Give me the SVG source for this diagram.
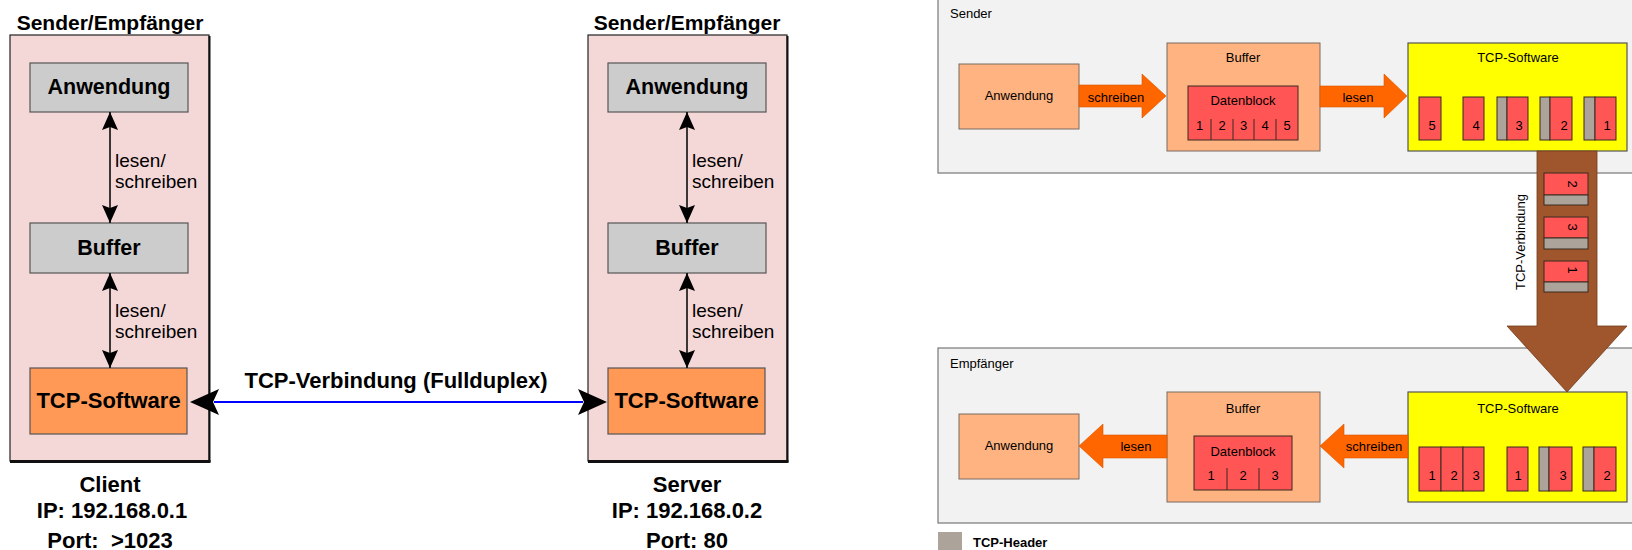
<svg xmlns="http://www.w3.org/2000/svg" width="1632" height="550" viewBox="0 0 1632 550">
<style>
text{font-family:"Liberation Sans",Arial,sans-serif;fill:#000}
.t21{font-size:21px;font-weight:bold}
.t22{font-size:22px;font-weight:bold}
.lab{font-size:19px}
.s13{font-size:13px}
.b13{font-size:13px;font-weight:bold}
.mid{text-anchor:middle}
.host{fill:#f4d7d7;stroke:#222;stroke-width:1.2}
.shadow{stroke:#111;fill:none}
.gbox{fill:#cccccc;stroke:#555;stroke-width:1.2}
.obox{fill:#ff9955;stroke:#555;stroke-width:1.2}
.cont{fill:#f2f2f2;stroke:#777;stroke-width:1.2}
.lo{fill:#ffb380;stroke:#7a6a60;stroke-width:1}
.red{fill:#ff5555;stroke:#3a2a20;stroke-width:1}
.hdr{fill:#aca49b;stroke:#3a2a20;stroke-width:1}
.yel{fill:#ffff00;stroke:#555;stroke-width:1.2}
.oarr{fill:#ff6600;stroke:#d45500;stroke-width:0.6}
.div{stroke:#3a2a20;stroke-width:1}
.blk{stroke:#000;stroke-width:1.5}
</style>
<defs>
<marker id="ah" viewBox="0 0 18 16" refX="18" refY="8" markerWidth="18" markerHeight="16" markerUnits="userSpaceOnUse" orient="auto-start-reverse">
<path d="M0,0 L18,8 L0,16 L3,8 z" fill="#000"/>
</marker>
</defs>

<!-- Left: Client -->
<g id="client">
<text class="t21 mid" x="110" y="30">Sender/Empfänger</text>
<rect class="host" x="10" y="35" width="199" height="426"/>
<path class="shadow" d="M209.5,36 V462" stroke-width="2"/>
<path class="shadow" d="M10,461.5 H210.5" stroke-width="3"/>
<text class="t22 mid" x="110" y="492">Client</text>
<text class="t22 mid" x="112" y="518">IP: 192.168.0.1</text>
<text class="t22 mid" x="110" y="548" xml:space="preserve">Port:  &gt;1023</text>
</g>
<g id="client-anwendung">
<rect class="gbox" x="30" y="63" width="158" height="49"/>
<text class="t21 mid" x="109" y="94" style="font-size:21.5px">Anwendung</text>
</g>
<g id="client-buffer">
<rect class="gbox" x="30" y="223" width="158" height="50"/>
<text class="t21 mid" x="109" y="255" style="font-size:21.5px">Buffer</text>
</g>
<g id="client-tcp">
<rect class="obox" x="30" y="368" width="157" height="66"/>
<text class="t22 mid" x="108.5" y="408">TCP-Software</text>
</g>

<!-- Right: Server -->
<g id="server">
<text class="t21 mid" x="687" y="30">Sender/Empfänger</text>
<rect class="host" x="588" y="35" width="199" height="426"/>
<path class="shadow" d="M787.5,36 V462" stroke-width="2"/>
<path class="shadow" d="M588,461.5 H788.5" stroke-width="3"/>
<text class="t22 mid" x="687" y="492">Server</text>
<text class="t22 mid" x="687" y="518">IP: 192.168.0.2</text>
<text class="t22 mid" x="687" y="548">Port: 80</text>
</g>
<g id="server-anwendung">
<rect class="gbox" x="608" y="63" width="158" height="49"/>
<text class="t21 mid" x="687" y="94" style="font-size:21.5px">Anwendung</text>
</g>
<g id="server-buffer">
<rect class="gbox" x="608" y="223" width="158" height="50"/>
<text class="t21 mid" x="687" y="255" style="font-size:21.5px">Buffer</text>
</g>
<g id="server-tcp">
<rect class="obox" x="608" y="368" width="157" height="66"/>
<text class="t22 mid" x="686.5" y="408">TCP-Software</text>
</g>

<!-- Left connectors -->
<g id="connectors-left">
<line class="blk" x1="110" y1="112" x2="110" y2="223" marker-start="url(#ah)" marker-end="url(#ah)"/>
<text class="lab" x="115" y="167">lesen/</text>
<text class="lab" x="115" y="188">schreiben</text>
<line class="blk" x1="110" y1="273" x2="110" y2="368" marker-start="url(#ah)" marker-end="url(#ah)"/>
<text class="lab" x="115" y="317">lesen/</text>
<text class="lab" x="115" y="338">schreiben</text>
<line class="blk" x1="687" y1="112" x2="687" y2="223" marker-start="url(#ah)" marker-end="url(#ah)"/>
<text class="lab" x="692" y="167">lesen/</text>
<text class="lab" x="692" y="188">schreiben</text>
<line class="blk" x1="687" y1="273" x2="687" y2="368" marker-start="url(#ah)" marker-end="url(#ah)"/>
<text class="lab" x="692" y="317">lesen/</text>
<text class="lab" x="692" y="338">schreiben</text>
<line x1="214" y1="402" x2="583" y2="402" stroke="#0000ff" stroke-width="2"/>
<path d="M190,402 L219,389 L213,402 L219,415 z" fill="#000"/>
<path d="M607,402 L578,389 L584,402 L578,415 z" fill="#000"/>
<text class="t22 mid" x="396" y="388">TCP-Verbindung (Fullduplex)</text>
</g>

<!-- Right diagram: Sender -->
<g id="sender">
<rect class="cont" x="938" y="-1" width="700" height="174"/>
<text class="s13" x="950" y="17.5">Sender</text>
</g>
<g id="sender-anwendung">
<rect class="lo" x="959" y="64" width="120" height="65"/>
<text class="s13 mid" x="1019" y="99.5">Anwendung</text>
</g>
<g id="sender-buffer">
<rect class="lo" x="1167" y="43" width="153" height="108"/>
<text class="s13 mid" x="1243" y="61.5">Buffer</text>
<rect class="red" x="1188" y="86" width="110" height="54"/>
<text class="s13 mid" x="1243" y="104.5">Datenblock</text>
<path class="div" d="M1211,119 V140 M1233,119 V140 M1254,119 V140 M1276,119 V140"/>
<text class="s13 mid" x="1199.5" y="129.5">1</text>
<text class="s13 mid" x="1222" y="129.5">2</text>
<text class="s13 mid" x="1243.5" y="129.5">3</text>
<text class="s13 mid" x="1265" y="129.5">4</text>
<text class="s13 mid" x="1287" y="129.5">5</text>
</g>
<g id="sender-tcp">
<rect class="yel" x="1408" y="43" width="219" height="108"/>
<text class="s13 mid" x="1518" y="61.5">TCP-Software</text>
<rect class="red" x="1419" y="97" width="22" height="43"/>
<text class="s13 mid" x="1432" y="129.5">5</text>
<rect class="red" x="1463" y="97" width="21" height="43"/>
<text class="s13 mid" x="1476" y="129.5">4</text>
<rect class="hdr" x="1497" y="97" width="10" height="43"/>
<rect class="red" x="1507" y="97" width="21" height="43"/>
<text class="s13 mid" x="1519" y="129.5">3</text>
<rect class="hdr" x="1540" y="97" width="10" height="43"/>
<rect class="red" x="1550" y="97" width="22" height="43"/>
<text class="s13 mid" x="1564" y="129.5">2</text>
<rect class="hdr" x="1584" y="97" width="11" height="43"/>
<rect class="red" x="1595" y="97" width="21" height="43"/>
<text class="s13 mid" x="1607" y="129.5">1</text>
</g>

<!-- Right diagram: Empfänger -->
<g id="empfaenger">
<rect class="cont" x="938" y="348" width="700" height="175"/>
<text class="s13" x="950" y="368">Empfänger</text>
</g>
<g id="empf-anwendung">
<rect class="lo" x="959" y="414" width="120" height="65"/>
<text class="s13 mid" x="1019" y="449.5">Anwendung</text>
</g>
<g id="empf-buffer">
<rect class="lo" x="1167" y="392" width="153" height="110"/>
<text class="s13 mid" x="1243" y="412.5">Buffer</text>
<rect class="red" x="1194" y="436" width="98" height="54"/>
<text class="s13 mid" x="1243" y="455.5">Datenblock</text>
<path class="div" d="M1227,468 V490 M1259,468 V490"/>
<text class="s13 mid" x="1211" y="479.5">1</text>
<text class="s13 mid" x="1243" y="479.5">2</text>
<text class="s13 mid" x="1275" y="479.5">3</text>
</g>
<g id="empf-tcp">
<rect class="yel" x="1408" y="392" width="219" height="110"/>
<text class="s13 mid" x="1518" y="412.5">TCP-Software</text>
<rect class="red" x="1419" y="447" width="22" height="44"/>
<text class="s13 mid" x="1432" y="479.5">1</text>
<rect class="red" x="1441" y="447" width="22" height="44"/>
<text class="s13 mid" x="1454" y="479.5">2</text>
<rect class="red" x="1463" y="447" width="21" height="44"/>
<text class="s13 mid" x="1476" y="479.5">3</text>
<rect class="red" x="1507" y="447" width="21" height="44"/>
<text class="s13 mid" x="1518" y="479.5">1</text>
<rect class="hdr" x="1539" y="447" width="10" height="44"/>
<rect class="red" x="1549" y="447" width="23" height="44"/>
<text class="s13 mid" x="1563" y="479.5">3</text>
<rect class="hdr" x="1583" y="447" width="11" height="44"/>
<rect class="red" x="1594" y="447" width="22" height="44"/>
<text class="s13 mid" x="1607" y="479.5">2</text>
</g>

<!-- Right connectors -->
<g id="connectors-right">
<path class="oarr" d="M1079,85 H1142 V74 L1166,96 L1142,118 V107 H1079 z"/>
<text class="s13 mid" x="1116" y="101.5">schreiben</text>
<path class="oarr" d="M1320,86 H1384 V74 L1407,96 L1384,118 V107 H1320 z"/>
<text class="s13 mid" x="1358" y="101.5">lesen</text>
<path class="oarr" d="M1167,435 H1103 V424 L1079,446 L1103,468 V458 H1167 z"/>
<text class="s13 mid" x="1136" y="450.5">lesen</text>
<path class="oarr" d="M1408,435 H1344 V424 L1320,446 L1344,468 V458 H1408 z"/>
<text class="s13 mid" x="1374" y="450.5">schreiben</text>
<path d="M1537,151 H1597 V326 H1627 L1567,392 L1507,326 H1537 z" fill="#a0562c" stroke="#6e3a1c" stroke-width="0.8"/>
<text class="s13 mid" transform="rotate(-90 1520 242)" x="1520" y="246.5">TCP-Verbindung</text>
<rect class="red" x="1544" y="173" width="44" height="22"/>
<rect class="hdr" x="1544" y="195" width="44" height="10"/>
<text class="s13 mid" transform="rotate(90 1572 184)" x="1572" y="188.5">2</text>
<rect class="red" x="1544" y="217" width="44" height="21"/>
<rect class="hdr" x="1544" y="238" width="44" height="11"/>
<text class="s13 mid" transform="rotate(90 1572 227)" x="1572" y="231.5">3</text>
<rect class="red" x="1544" y="261" width="44" height="21"/>
<rect class="hdr" x="1544" y="282" width="44" height="10"/>
<text class="s13 mid" transform="rotate(90 1572 270)" x="1572" y="274.5">1</text>
</g>

<g id="legend">
<rect x="938" y="532" width="24" height="20" fill="#aca49b"/>
<text class="b13" x="973" y="546.5">TCP-Header</text>
</g>
</svg>
